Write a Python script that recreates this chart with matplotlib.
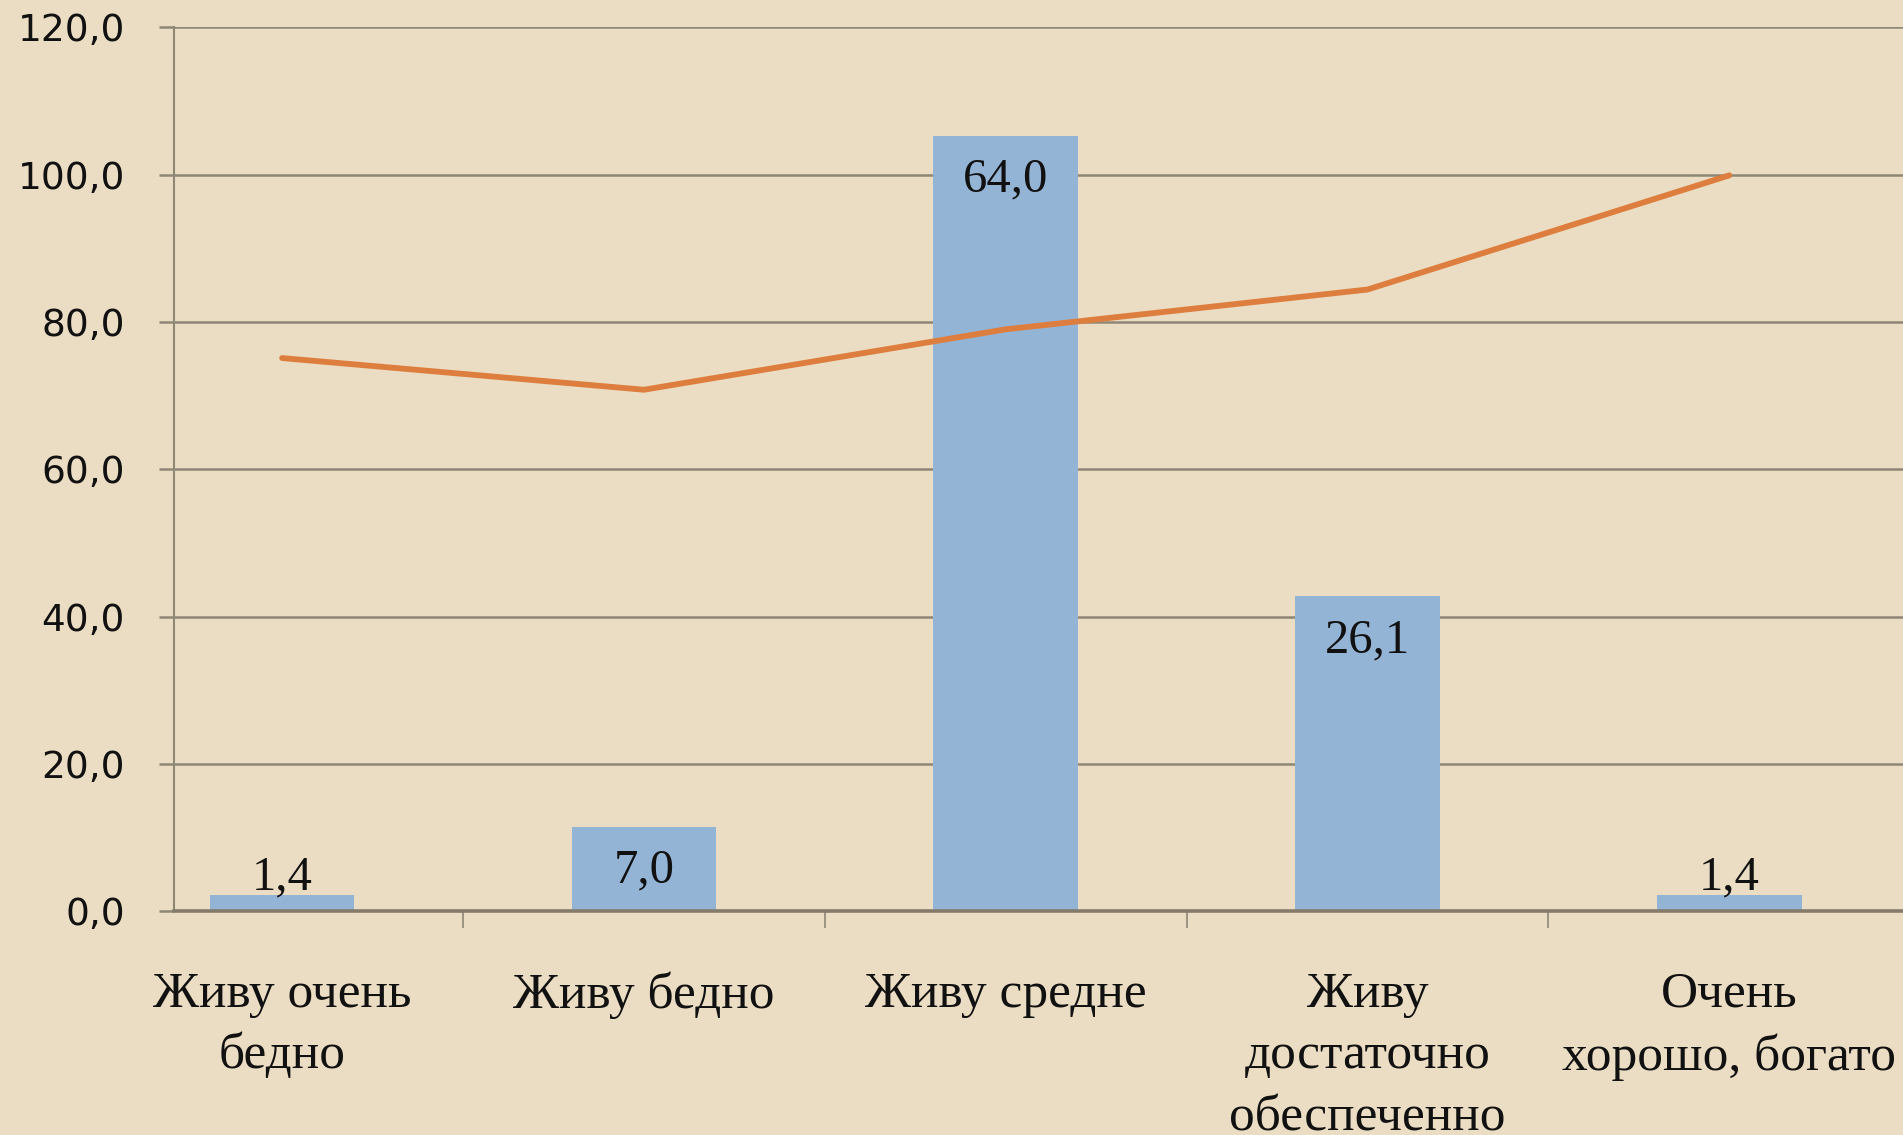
import matplotlib.pyplot as plt

# categories and values
categories = [
    "Живу очень\nбедно",
    "Живу бедно",
    "Живу средне",
    "Живу\nдостаточно\nобеспеченно",
    "Очень\nхорошо, богато",
]
bar_heights = [2.2, 11.5, 105.3, 42.8, 2.2]
bar_labels = ["1,4", "7,0", "64,0", "26,1", "1,4"]
line_values = [75.1, 70.8, 79.0, 84.4, 99.9]
yticks = [0, 20, 40, 60, 80, 100, 120]

bg = "#EBDDC3"
grid_col = "#8E8776"

fig = plt.figure(figsize=(19.03, 11.35), dpi=100, facecolor=bg)
ax = fig.add_axes([0.0912, 0.197, 0.9088, 0.779])
ax.set_facecolor(bg)

x = range(len(categories))
ax.bar(x, bar_heights, width=0.40, color="#94B4D6", zorder=2)
ax.plot(x, line_values, color="#DE7E3E", linewidth=4.2, zorder=3,
        solid_capstyle="round")

for i, (h, lab) in enumerate(zip(bar_heights, bar_labels)):
    ax.text(i, max(h - 6.0, 4.6), lab, ha="center", va="center",
            fontsize=35, family="Liberation Serif", color="#111111", zorder=4)

ax.set_xlim(-0.30, 4.48)
ax.set_ylim(0, 120)
ax.set_yticks(yticks)
ax.set_yticklabels([f"{v},0" for v in yticks], fontsize=27,
                   family="DejaVu Sans", color="#111111")
ax.yaxis.grid(True, color=grid_col, linewidth=1.8, zorder=1)

ax.set_xticks(list(x))
ax.set_xticklabels(categories, fontsize=37, family="Liberation Serif",
                   color="#111111", linespacing=1.43)
ax.set_xticks([i + 0.5 for i in range(4)], minor=True)
ax.tick_params(axis="x", which="major", length=0, pad=43)
ax.tick_params(axis="x", which="minor", length=12, width=1.2, color=grid_col)
ax.tick_params(axis="y", length=11, width=1.8, color=grid_col, pad=24)

for side in ["top", "right"]:
    ax.spines[side].set_visible(False)
ax.spines["left"].set_color(grid_col)
ax.spines["left"].set_linewidth(1.5)
ax.spines["bottom"].set_color("#857B6A")
ax.spines["bottom"].set_linewidth(2.6)
ax.spines["bottom"].set_zorder(5)

plt.savefig("out.png", dpi=100, facecolor=bg)
